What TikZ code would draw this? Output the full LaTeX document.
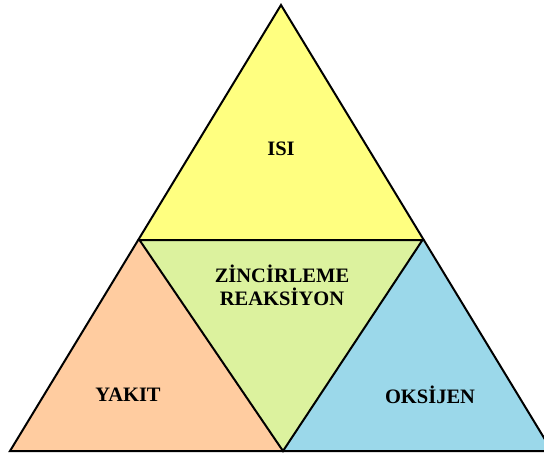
\documentclass[tikz,border=0pt]{standalone}
\usepackage{fontspec}
\setmainfont{Liberation Serif}
\definecolor{isi}{RGB}{255,255,128}
\definecolor{yakit}{RGB}{255,204,160}
\definecolor{zincir}{RGB}{220,242,158}
\definecolor{oksi}{RGB}{155,216,234}
\tikzset{
  part/.style={draw=black, line width=2pt, line join=miter},
  lbl/.style={font=\fontsize{20.5}{22.5}\selectfont\bfseries, anchor=base, inner sep=0pt, align=center}
}
\begin{document}
\begin{tikzpicture}[x=1pt,y=-1pt]
\useasboundingbox (0,0) rectangle (544,455);
\coordinate (A) at (281,5);
\coordinate (BL) at (10,451);
\coordinate (BR) at (552,451);
\coordinate (ML) at (139.5,240);
\coordinate (MR) at (422.5,240);
\coordinate (BM) at (283,451);
\fill[isi] (A) -- (ML) -- (MR) -- cycle;
\fill[yakit] (ML) -- (BL) -- (BM) -- cycle;
\fill[oksi] (MR) -- (BM) -- (BR) -- cycle;
\fill[zincir] (ML) -- (MR) -- (BM) -- cycle;
\draw[part] (A) -- (BL) -- (BR) -- cycle;
\draw[part] (ML) -- (MR) -- (BM) -- cycle;
\node[lbl] (isiT) at (281,155) {ISI};
\node[lbl] (zinT) at (282,305) {ZİNCİRLEME\\REAKSİYON};
\node[lbl] (yakT) at (128,401.5) {YAKIT};
\node[lbl] (oksT) at (430,403) {OKSİJEN};
\end{tikzpicture}
\end{document}
